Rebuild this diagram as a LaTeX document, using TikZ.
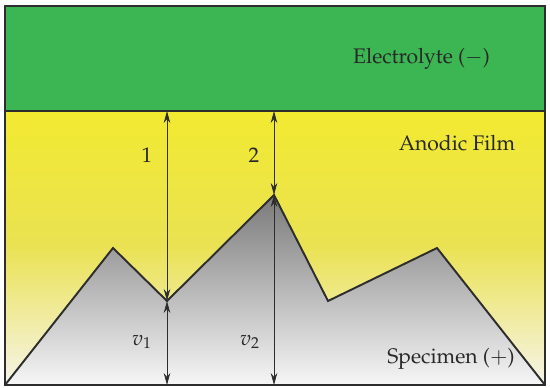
\documentclass[tikz,border=0pt]{standalone}
\usepackage[T1]{fontenc}
\usepackage{mathpazo}
\usetikzlibrary{arrows.meta}
\definecolor{electrolyte}{RGB}{60,181,83}
\definecolor{filmtop}{RGB}{242,234,48}
\definecolor{filmmid}{RGB}{234,226,82}
\definecolor{filmbot}{RGB}{246,244,234}
\definecolor{metaltop}{RGB}{122,122,122}
\definecolor{metalbot}{RGB}{246,246,246}
\definecolor{edge}{RGB}{45,45,45}
\definecolor{labeltext}{RGB}{40,40,40}
\begin{document}
\begin{tikzpicture}[x=0.02cm,y=-0.02cm,>={Stealth[length=2.4mm,width=1.3mm]},
  every node/.style={labeltext,font=\large}]
  \useasboundingbox (0,0) rectangle (550,388);
  \coordinate (TL) at (5,6);
  \coordinate (ML) at (5,111);
  \coordinate (MR) at (545,111);
  \coordinate (BL) at (5,385);
  \coordinate (BR) at (545,385);
  \coordinate (FL) at (5,245);
  \coordinate (FR) at (545,245);
  \coordinate (P1) at (113,248);
  \coordinate (V1) at (167,301);
  \coordinate (P2) at (274,195);
  \coordinate (V2) at (328,301);
  \coordinate (P3) at (437,248);
  \coordinate (T1) at (167,111);
  \coordinate (T2) at (274,111);
  \coordinate (B1) at (167,385);
  \coordinate (B2) at (274,385);
  % layers
  \fill[electrolyte] (TL) rectangle (MR);
  \shade[top color=filmtop,bottom color=filmmid] (ML) rectangle (FR);
  \shade[top color=filmmid,bottom color=filmbot] (FL) rectangle (BR);
  \shade[top color=metaltop,bottom color=metalbot] (BL)--(P1)--(V1)--(P2)--(V2)--(P3)--(BR)--cycle;
  \draw[edge,line width=1.1pt,line join=miter] (BL)--(P1)--(V1)--(P2)--(V2)--(P3)--(BR);
  \draw[edge,line width=1.3pt] (TL) rectangle (BR);
  \draw[edge,line width=1.5pt] (ML) -- (MR);
  % distances
  \draw[<->,edge,thin] (T1) -- (V1);
  \draw[<->,edge,thin] (V1) -- (B1);
  \draw[<->,edge,thin] (T2) -- (P2);
  \draw[<->,edge,thin] (P2) -- (B2);
  \node (d1) at (147,155) {1};
  \node (d2) at (254,155) {2};
  \node (h1) at (142,342) {$v_1$};
  \node (h2) at (250,342) {$v_2$};
  \node[anchor=east] (el) at (496,59) {Electrolyte ($-$)};
  \node (film) at (457,143) {Anodic Film};
  \node (spec) at (451,359) {Specimen ($+$)};
\end{tikzpicture}
\end{document}
